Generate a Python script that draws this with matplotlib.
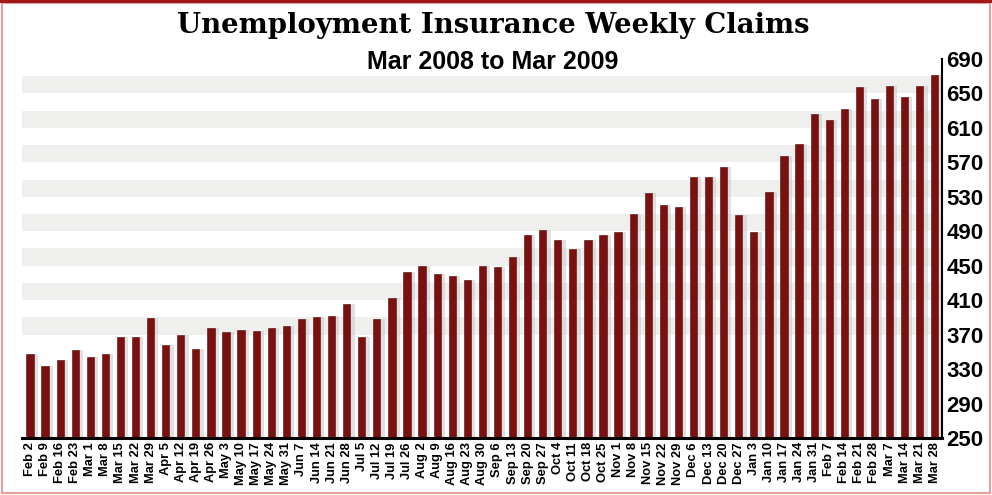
import matplotlib
matplotlib.use("Agg")
import matplotlib.pyplot as plt
from matplotlib.patches import Rectangle
import numpy as np

weeks = ["Feb 2", "Feb 9", "Feb 16", "Feb 23", "Mar 1", "Mar 8", "Mar 15", "Mar 22", "Mar 29",
         "Apr 5", "Apr 12", "Apr 19", "Apr 26", "May 3", "May 10", "May 17", "May 24", "May 31",
         "Jun 7", "Jun 14", "Jun 21", "Jun 28", "Jul 5", "Jul 12", "Jul 19", "Jul 26",
         "Aug 2", "Aug 9", "Aug 16", "Aug 23", "Aug 30", "Sep 6", "Sep 13", "Sep 20", "Sep 27",
         "Oct 4", "Oct 11", "Oct 18", "Oct 25", "Nov 1", "Nov 8", "Nov 15", "Nov 22", "Nov 29",
         "Dec 6", "Dec 13", "Dec 20", "Dec 27", "Jan 3", "Jan 10", "Jan 17", "Jan 24", "Jan 31",
         "Feb 7", "Feb 14", "Feb 21", "Feb 28", "Mar 7", "Mar 14", "Mar 21", "Mar 28"]

claims = [348, 334, 341, 352, 344, 348, 367, 367, 389,
          358, 369, 353, 378, 373, 375, 374, 378, 380,
          388, 390, 392, 405, 367, 388, 413, 443,
          450, 440, 438, 433, 450, 448, 460, 486, 491,
          480, 470, 480, 486, 489, 510, 534, 521, 518,
          553, 553, 565, 509, 489, 536, 577, 591, 626,
          619, 632, 658, 644, 659, 646, 659, 671]

yticks = list(range(250, 691, 40))
band_starts = list(range(370, 651, 40))

title = "Unemployment Insurance Weekly Claims"
subtitle = "Mar 2008 to Mar 2009"

fig = plt.figure(figsize=(9.92, 4.95), dpi=100)
fig.patch.set_facecolor("white")
ax = fig.add_axes([22/992, 57/495, 920/992, 379/495])

x = np.arange(len(claims))

for b in band_starts:
    ax.axhspan(b, b + 20, color="#efefed", zorder=0, lw=0)

# shadow
ax.bar(x + 0.22, np.array(claims) - 250, bottom=250, width=0.6, color="#c8c8c8",
       alpha=0.55, zorder=1, lw=0)
ax.bar(x, np.array(claims) - 250, bottom=250, width=0.48, color="#7a1010",
       edgecolor="#580a0a", linewidth=0.4, zorder=2)

ax.set_xlim(-0.53, 60.48)
ax.set_ylim(250, 690)
ax.set_yticks(yticks)
ax.yaxis.tick_right()
ax.tick_params(axis="y", length=0, pad=3, labelsize=16)
for lab in ax.get_yticklabels():
    lab.set_fontfamily("Liberation Sans")
    lab.set_fontweight("bold")
ax.set_xticks(x)
ax.set_xticklabels(weeks, rotation=90, fontsize=9.3, fontweight="bold",
                   fontfamily="Liberation Sans")
ax.tick_params(axis="x", length=0, pad=3)

for s in ["top", "left"]:
    ax.spines[s].set_visible(False)
ax.spines["right"].set_linewidth(1.5)
ax.spines["bottom"].set_linewidth(2.2)
ax.set_facecolor("white")

fig.text(0.497, 0.948, title, ha="center", va="center", fontsize=19.8,
         fontweight="bold", family="DejaVu Serif")
fig.text(0.497, 0.874, subtitle, ha="center", va="center", fontsize=18,
         fontweight="bold", family="Liberation Sans")

# border
fig.patches.append(Rectangle((0.002, 0.004), 0.996, 0.99, transform=fig.transFigure,
                             fill=False, edgecolor="#e8a0a0", linewidth=1.5))
fig.patches.append(Rectangle((0, 0.994), 1, 0.006, transform=fig.transFigure,
                             facecolor="#a01818", edgecolor="none"))

fig.savefig("out.png", dpi=100)
